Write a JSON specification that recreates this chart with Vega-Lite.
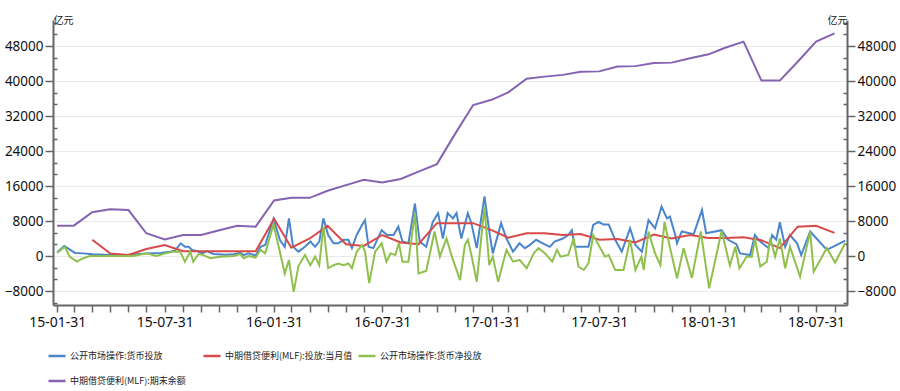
{
  "$schema": "https://vega.github.io/schema/vega-lite/v6.json",
  "autosize": {"type": "none"},
  "padding": {"left": 53, "top": 20, "right": 53, "bottom": 86},
  "width": 794,
  "height": 285,
  "background": "white",
  "config": {
    "view": {"stroke": null},
    "legend": {
      "orient": "none", "legendX": -6, "legendY": 326, "columns": 3, "gridAlign": "all",
      "columnPadding": 0, "rowPadding": 10, "padding": 0, "direction": "horizontal",
      "symbolType": "stroke", "symbolSize": 289, "symbolStrokeWidth": 2.5,
      "labelFont": "Noto Sans CJK SC", "labelFontSize": 9, "labelColor": "#222", "labelOffset": 3, "labelLimit": 0
    }
  },
  "datasets": {
    "blue": [
      {"d": "2015-01-31", "v": 800}, {"d": "2015-02-12", "v": 2300}, {"d": "2015-03-02", "v": 700}, {"d": "2015-03-16", "v": 600},
      {"d": "2015-04-01", "v": 400}, {"d": "2015-04-30", "v": 230}, {"d": "2015-05-31", "v": 300}, {"d": "2015-07-01", "v": 600},
      {"d": "2015-07-24", "v": 700}, {"d": "2015-08-09", "v": 1000}, {"d": "2015-08-17", "v": 1200}, {"d": "2015-08-27", "v": 2900},
      {"d": "2015-09-03", "v": 2100}, {"d": "2015-09-09", "v": 2100}, {"d": "2015-09-15", "v": 1400}, {"d": "2015-09-24", "v": 1100},
      {"d": "2015-10-02", "v": 600}, {"d": "2015-10-10", "v": 1100}, {"d": "2015-10-21", "v": 450}, {"d": "2015-11-10", "v": 300},
      {"d": "2015-11-24", "v": 400}, {"d": "2015-12-05", "v": 750}, {"d": "2015-12-11", "v": 200}, {"d": "2015-12-19", "v": 600},
      {"d": "2015-12-31", "v": 100}, {"d": "2016-01-08", "v": 2100}, {"d": "2016-01-16", "v": 2500}, {"d": "2016-01-30", "v": 8500},
      {"d": "2016-02-10", "v": 3600}, {"d": "2016-02-18", "v": 2100}, {"d": "2016-02-25", "v": 8600}, {"d": "2016-03-03", "v": 2100},
      {"d": "2016-03-12", "v": 1000}, {"d": "2016-03-23", "v": 2100}, {"d": "2016-04-01", "v": 3300}, {"d": "2016-04-09", "v": 2100},
      {"d": "2016-04-16", "v": 3300}, {"d": "2016-04-23", "v": 8600}, {"d": "2016-05-01", "v": 4800}, {"d": "2016-05-10", "v": 2900},
      {"d": "2016-05-18", "v": 2900}, {"d": "2016-05-27", "v": 3700}, {"d": "2016-06-04", "v": 3700}, {"d": "2016-06-10", "v": 1800},
      {"d": "2016-06-18", "v": 4800}, {"d": "2016-06-27", "v": 7100}, {"d": "2016-07-02", "v": 8200}, {"d": "2016-07-08", "v": 2100},
      {"d": "2016-07-16", "v": 1800}, {"d": "2016-07-30", "v": 5900}, {"d": "2016-08-08", "v": 4800}, {"d": "2016-08-19", "v": 4800},
      {"d": "2016-08-27", "v": 6700}, {"d": "2016-09-03", "v": 3300}, {"d": "2016-09-13", "v": 2900}, {"d": "2016-09-24", "v": 12000},
      {"d": "2016-10-02", "v": 3300}, {"d": "2016-10-13", "v": 2100}, {"d": "2016-10-24", "v": 7800}, {"d": "2016-11-02", "v": 9800},
      {"d": "2016-11-10", "v": 4000}, {"d": "2016-11-18", "v": 9800}, {"d": "2016-11-27", "v": 8600}, {"d": "2016-12-03", "v": 9800},
      {"d": "2016-12-11", "v": 4000}, {"d": "2016-12-22", "v": 9800}, {"d": "2016-12-28", "v": 7500}, {"d": "2017-01-06", "v": 1800},
      {"d": "2017-01-19", "v": 13600}, {"d": "2017-01-28", "v": 4800}, {"d": "2017-02-02", "v": 600}, {"d": "2017-02-16", "v": 7500},
      {"d": "2017-02-25", "v": 4000}, {"d": "2017-03-08", "v": 1000}, {"d": "2017-03-19", "v": 2900}, {"d": "2017-03-28", "v": 1800},
      {"d": "2017-04-05", "v": 2500}, {"d": "2017-04-16", "v": 3700}, {"d": "2017-04-27", "v": 2900}, {"d": "2017-05-09", "v": 2100},
      {"d": "2017-05-17", "v": 3300}, {"d": "2017-05-31", "v": 4000}, {"d": "2017-06-09", "v": 4800}, {"d": "2017-06-15", "v": 5900},
      {"d": "2017-06-20", "v": 2100}, {"d": "2017-07-13", "v": 2100}, {"d": "2017-07-21", "v": 7100}, {"d": "2017-07-30", "v": 7800},
      {"d": "2017-08-07", "v": 7200}, {"d": "2017-08-16", "v": 7200}, {"d": "2017-08-27", "v": 3700}, {"d": "2017-09-07", "v": 1000},
      {"d": "2017-09-21", "v": 6300}, {"d": "2017-09-30", "v": 2500}, {"d": "2017-10-11", "v": 1000}, {"d": "2017-10-22", "v": 8200},
      {"d": "2017-11-02", "v": 6300}, {"d": "2017-11-13", "v": 11300}, {"d": "2017-11-22", "v": 8600}, {"d": "2017-11-27", "v": 9000},
      {"d": "2017-12-06", "v": 4800}, {"d": "2017-12-09", "v": 2900}, {"d": "2017-12-17", "v": 5600}, {"d": "2018-01-06", "v": 5000},
      {"d": "2018-01-20", "v": 10500}, {"d": "2018-01-27", "v": 5200}, {"d": "2018-02-22", "v": 5900}, {"d": "2018-03-05", "v": 3700},
      {"d": "2018-03-19", "v": 2700}, {"d": "2018-03-25", "v": 600}, {"d": "2018-04-11", "v": 230}, {"d": "2018-04-19", "v": 4800},
      {"d": "2018-04-28", "v": 3300}, {"d": "2018-05-12", "v": 1800}, {"d": "2018-05-18", "v": 4800}, {"d": "2018-05-25", "v": 3700},
      {"d": "2018-05-31", "v": 7700}, {"d": "2018-06-09", "v": 2100}, {"d": "2018-06-17", "v": 4800}, {"d": "2018-06-29", "v": 2900},
      {"d": "2018-07-06", "v": 230}, {"d": "2018-07-21", "v": 5600}, {"d": "2018-08-18", "v": 1400}, {"d": "2018-09-18", "v": 3500}
    ],
    "red": [
      {"d": "2015-03-31", "v": 3700}, {"d": "2015-04-30", "v": 600}, {"d": "2015-05-31", "v": 230}, {"d": "2015-06-30", "v": 1600},
      {"d": "2015-07-31", "v": 2500}, {"d": "2015-08-31", "v": 1100}, {"d": "2015-09-30", "v": 1100}, {"d": "2015-10-31", "v": 1100},
      {"d": "2015-11-30", "v": 1100}, {"d": "2015-12-31", "v": 1100}, {"d": "2016-01-31", "v": 8500}, {"d": "2016-02-29", "v": 1900},
      {"d": "2016-03-31", "v": 4000}, {"d": "2016-04-30", "v": 6900}, {"d": "2016-05-31", "v": 2700}, {"d": "2016-06-30", "v": 2300},
      {"d": "2016-07-31", "v": 4800}, {"d": "2016-08-31", "v": 3100}, {"d": "2016-09-30", "v": 2700}, {"d": "2016-10-31", "v": 7500},
      {"d": "2016-11-30", "v": 7500}, {"d": "2016-12-31", "v": 7500}, {"d": "2017-01-31", "v": 5900}, {"d": "2017-02-28", "v": 4200},
      {"d": "2017-03-31", "v": 5200}, {"d": "2017-04-30", "v": 5200}, {"d": "2017-05-31", "v": 4800}, {"d": "2017-06-30", "v": 5000},
      {"d": "2017-07-31", "v": 3700}, {"d": "2017-08-31", "v": 3900}, {"d": "2017-09-30", "v": 3100}, {"d": "2017-10-31", "v": 4900},
      {"d": "2017-11-30", "v": 4000}, {"d": "2017-12-31", "v": 4800}, {"d": "2018-01-31", "v": 4100}, {"d": "2018-02-28", "v": 4100},
      {"d": "2018-03-31", "v": 4300}, {"d": "2018-04-30", "v": 3600}, {"d": "2018-05-31", "v": 1800}, {"d": "2018-06-30", "v": 6700},
      {"d": "2018-07-31", "v": 6900}, {"d": "2018-08-31", "v": 5300}
    ],
    "green": [
      {"d": "2015-01-31", "v": 750}, {"d": "2015-02-13", "v": 2100}, {"d": "2015-02-21", "v": -150}, {"d": "2015-03-05", "v": -1300},
      {"d": "2015-03-16", "v": -500}, {"d": "2015-03-27", "v": 0}, {"d": "2015-04-30", "v": 0}, {"d": "2015-06-08", "v": 0},
      {"d": "2015-07-01", "v": 600}, {"d": "2015-07-17", "v": 0}, {"d": "2015-07-28", "v": 450}, {"d": "2015-08-14", "v": 1000},
      {"d": "2015-08-26", "v": 1000}, {"d": "2015-09-03", "v": -1300}, {"d": "2015-09-12", "v": 1000}, {"d": "2015-09-17", "v": -1300},
      {"d": "2015-09-26", "v": 450}, {"d": "2015-10-04", "v": 200}, {"d": "2015-10-16", "v": -500}, {"d": "2015-11-01", "v": -150},
      {"d": "2015-11-24", "v": 0}, {"d": "2015-12-05", "v": 450}, {"d": "2015-12-11", "v": -500}, {"d": "2015-12-19", "v": 0},
      {"d": "2015-12-31", "v": -350}, {"d": "2016-01-08", "v": 1400}, {"d": "2016-01-16", "v": 600}, {"d": "2016-01-30", "v": 7200},
      {"d": "2016-02-10", "v": 800}, {"d": "2016-02-18", "v": -4000}, {"d": "2016-02-25", "v": -900}, {"d": "2016-03-04", "v": -8200},
      {"d": "2016-03-12", "v": -2300}, {"d": "2016-03-23", "v": 230}, {"d": "2016-04-01", "v": -2100}, {"d": "2016-04-09", "v": -150},
      {"d": "2016-04-16", "v": -2100}, {"d": "2016-04-23", "v": 6700}, {"d": "2016-05-01", "v": -2800}, {"d": "2016-05-10", "v": -2100},
      {"d": "2016-05-18", "v": -1700}, {"d": "2016-05-27", "v": -2100}, {"d": "2016-06-04", "v": -1700}, {"d": "2016-06-10", "v": -2800},
      {"d": "2016-06-18", "v": 1000}, {"d": "2016-06-27", "v": 2500}, {"d": "2016-07-02", "v": 1000}, {"d": "2016-07-09", "v": -6200},
      {"d": "2016-07-19", "v": 1000}, {"d": "2016-07-30", "v": 2900}, {"d": "2016-08-07", "v": -1300}, {"d": "2016-08-14", "v": 600},
      {"d": "2016-08-22", "v": 230}, {"d": "2016-08-28", "v": 2900}, {"d": "2016-09-03", "v": -1300}, {"d": "2016-09-13", "v": -1300},
      {"d": "2016-09-24", "v": 9800}, {"d": "2016-09-30", "v": -4000}, {"d": "2016-10-13", "v": -3400}, {"d": "2016-10-27", "v": 5600},
      {"d": "2016-11-05", "v": -150}, {"d": "2016-11-16", "v": 4000}, {"d": "2016-11-26", "v": -500}, {"d": "2016-12-09", "v": -5500},
      {"d": "2016-12-17", "v": 2500}, {"d": "2016-12-22", "v": 3700}, {"d": "2016-12-28", "v": 230}, {"d": "2017-01-06", "v": -5900},
      {"d": "2017-01-19", "v": 11300}, {"d": "2017-01-27", "v": -2100}, {"d": "2017-02-02", "v": -150}, {"d": "2017-02-11", "v": -5900},
      {"d": "2017-02-25", "v": 1400}, {"d": "2017-03-08", "v": -1300}, {"d": "2017-03-19", "v": -900}, {"d": "2017-03-31", "v": -2800},
      {"d": "2017-04-12", "v": 600}, {"d": "2017-04-20", "v": 1800}, {"d": "2017-05-01", "v": 600}, {"d": "2017-05-13", "v": -1300},
      {"d": "2017-05-21", "v": 1400}, {"d": "2017-05-27", "v": -150}, {"d": "2017-06-09", "v": 230}, {"d": "2017-06-18", "v": 4000},
      {"d": "2017-06-26", "v": -2400}, {"d": "2017-07-05", "v": -3200}, {"d": "2017-07-13", "v": -1700}, {"d": "2017-07-21", "v": 4800},
      {"d": "2017-07-30", "v": 2500}, {"d": "2017-08-10", "v": -150}, {"d": "2017-08-16", "v": 200}, {"d": "2017-08-27", "v": -3200},
      {"d": "2017-09-10", "v": -3200}, {"d": "2017-09-21", "v": 3700}, {"d": "2017-09-30", "v": -3200}, {"d": "2017-10-10", "v": -150},
      {"d": "2017-10-14", "v": -3200}, {"d": "2017-10-22", "v": 5600}, {"d": "2017-11-02", "v": 600}, {"d": "2017-11-11", "v": -2100},
      {"d": "2017-11-18", "v": 7800}, {"d": "2017-11-27", "v": 2000}, {"d": "2017-12-09", "v": -5100}, {"d": "2017-12-20", "v": 1800},
      {"d": "2018-01-03", "v": -5000}, {"d": "2018-01-18", "v": 5600}, {"d": "2018-02-01", "v": -7400}, {"d": "2018-02-22", "v": 5700},
      {"d": "2018-03-08", "v": -2200}, {"d": "2018-03-17", "v": 2100}, {"d": "2018-03-24", "v": -2800}, {"d": "2018-04-05", "v": -150},
      {"d": "2018-04-14", "v": -150}, {"d": "2018-04-19", "v": 4000}, {"d": "2018-04-28", "v": -2400}, {"d": "2018-05-09", "v": -1300},
      {"d": "2018-05-15", "v": 4000}, {"d": "2018-05-23", "v": -150}, {"d": "2018-05-31", "v": 4000}, {"d": "2018-06-09", "v": -2800},
      {"d": "2018-06-17", "v": 2100}, {"d": "2018-07-04", "v": -4700}, {"d": "2018-07-21", "v": 5600}, {"d": "2018-07-27", "v": -3600},
      {"d": "2018-08-18", "v": 1800}, {"d": "2018-09-01", "v": -1500}, {"d": "2018-09-18", "v": 2900}
    ],
    "purple": [
      {"d": "2015-01-31", "v": 6930}, {"d": "2015-02-28", "v": 6930}, {"d": "2015-03-31", "v": 10000}, {"d": "2015-04-30", "v": 10700},
      {"d": "2015-05-31", "v": 10500}, {"d": "2015-06-30", "v": 5200}, {"d": "2015-07-31", "v": 3800}, {"d": "2015-08-31", "v": 4800},
      {"d": "2015-09-30", "v": 4800}, {"d": "2015-10-31", "v": 5900}, {"d": "2015-11-30", "v": 6900}, {"d": "2015-12-31", "v": 6700},
      {"d": "2016-01-31", "v": 12700}, {"d": "2016-02-29", "v": 13300}, {"d": "2016-03-31", "v": 13300}, {"d": "2016-04-30", "v": 14900},
      {"d": "2016-05-31", "v": 16200}, {"d": "2016-06-30", "v": 17400}, {"d": "2016-07-31", "v": 16800}, {"d": "2016-08-31", "v": 17600},
      {"d": "2016-09-30", "v": 19300}, {"d": "2016-10-31", "v": 21000}, {"d": "2016-11-30", "v": 27800}, {"d": "2016-12-31", "v": 34500},
      {"d": "2017-01-31", "v": 35700}, {"d": "2017-02-28", "v": 37400}, {"d": "2017-03-31", "v": 40500}, {"d": "2017-04-30", "v": 41000},
      {"d": "2017-05-31", "v": 41400}, {"d": "2017-06-30", "v": 42100}, {"d": "2017-07-31", "v": 42200}, {"d": "2017-08-31", "v": 43300},
      {"d": "2017-09-30", "v": 43400}, {"d": "2017-10-31", "v": 44100}, {"d": "2017-11-30", "v": 44200}, {"d": "2017-12-31", "v": 45200},
      {"d": "2018-01-31", "v": 46100}, {"d": "2018-02-28", "v": 47600}, {"d": "2018-03-31", "v": 49000}, {"d": "2018-04-30", "v": 40100},
      {"d": "2018-05-31", "v": 40100}, {"d": "2018-06-30", "v": 44400}, {"d": "2018-07-31", "v": 49000}, {"d": "2018-08-31", "v": 50900}
    ]
  },
  "encoding": {
    "x": {
      "field": "d", "type": "temporal",
      "scale": {"type": "utc", "domain": [{"year": 2015, "month": 1, "date": 24, "utc": true}, {"year": 2018, "month": 9, "date": 21, "utc": true}]},
      "axis": {
        "title": null, "grid": false, "labelOverlap": false, "labelFlush": false,
        "values": [
          {"year": 2015, "month": 1, "date": 31, "utc": true}, {"year": 2015, "month": 2, "date": 28, "utc": true}, {"year": 2015, "month": 3, "date": 31, "utc": true},
          {"year": 2015, "month": 4, "date": 30, "utc": true}, {"year": 2015, "month": 5, "date": 31, "utc": true}, {"year": 2015, "month": 6, "date": 30, "utc": true},
          {"year": 2015, "month": 7, "date": 31, "utc": true}, {"year": 2015, "month": 8, "date": 31, "utc": true}, {"year": 2015, "month": 9, "date": 30, "utc": true},
          {"year": 2015, "month": 10, "date": 31, "utc": true}, {"year": 2015, "month": 11, "date": 30, "utc": true}, {"year": 2015, "month": 12, "date": 31, "utc": true},
          {"year": 2016, "month": 1, "date": 31, "utc": true}, {"year": 2016, "month": 2, "date": 29, "utc": true}, {"year": 2016, "month": 3, "date": 31, "utc": true},
          {"year": 2016, "month": 4, "date": 30, "utc": true}, {"year": 2016, "month": 5, "date": 31, "utc": true}, {"year": 2016, "month": 6, "date": 30, "utc": true},
          {"year": 2016, "month": 7, "date": 31, "utc": true}, {"year": 2016, "month": 8, "date": 31, "utc": true}, {"year": 2016, "month": 9, "date": 30, "utc": true},
          {"year": 2016, "month": 10, "date": 31, "utc": true}, {"year": 2016, "month": 11, "date": 30, "utc": true}, {"year": 2016, "month": 12, "date": 31, "utc": true},
          {"year": 2017, "month": 1, "date": 31, "utc": true}, {"year": 2017, "month": 2, "date": 28, "utc": true}, {"year": 2017, "month": 3, "date": 31, "utc": true},
          {"year": 2017, "month": 4, "date": 30, "utc": true}, {"year": 2017, "month": 5, "date": 31, "utc": true}, {"year": 2017, "month": 6, "date": 30, "utc": true},
          {"year": 2017, "month": 7, "date": 31, "utc": true}, {"year": 2017, "month": 8, "date": 31, "utc": true}, {"year": 2017, "month": 9, "date": 30, "utc": true},
          {"year": 2017, "month": 10, "date": 31, "utc": true}, {"year": 2017, "month": 11, "date": 30, "utc": true}, {"year": 2017, "month": 12, "date": 31, "utc": true},
          {"year": 2018, "month": 1, "date": 31, "utc": true}, {"year": 2018, "month": 2, "date": 28, "utc": true}, {"year": 2018, "month": 3, "date": 31, "utc": true},
          {"year": 2018, "month": 4, "date": 30, "utc": true}, {"year": 2018, "month": 5, "date": 31, "utc": true}, {"year": 2018, "month": 6, "date": 30, "utc": true},
          {"year": 2018, "month": 7, "date": 31, "utc": true}, {"year": 2018, "month": 8, "date": 31, "utc": true}
        ],
        "labelExpr": "(utcmonth(datum.value) == 0 || utcmonth(datum.value) == 6) ? utcFormat(datum.value, '%y-%m-%d') : ''",
        "tickSize": 7, "tickColor": "#666", "tickWidth": 1.5, "domainColor": "#666", "domainWidth": 2,
        "labelFont": "Noto Sans", "labelFontSize": 14, "labelColor": "#111", "labelPadding": 3
      }
    }
  },
  "resolve": {"scale": {"y": "shared"}, "axis": {"y": "independent"}},
  "layer": [
    {
      "data": {"name": "blue"},
      "mark": {"type": "line", "strokeWidth": 2},
      "encoding": {
        "y": {
          "field": "v", "type": "quantitative",
          "scale": {"domain": [-11200, 53943], "nice": false, "zero": false},
          "axis": {
            "orient": "left", "title": "亿元", "titleAngle": 0, "titleX": 0, "titleY": 0, "titleAlign": "left", "titleBaseline": "middle",
            "titleFont": "Noto Sans CJK SC", "titleFontSize": 10, "titleFontWeight": "normal", "titleColor": "#222",
            "values": [-10666.667, -8000, -5333.333, -2666.667, 0, 2666.667, 5333.333, 8000, 10666.667, 13333.333, 16000, 18666.667, 21333.333, 24000, 26666.667, 29333.333, 32000, 34666.667, 37333.333, 40000, 42666.667, 45333.333, 48000, 50666.667, 53333.333],
            "labelExpr": "abs(datum.value % 8000) < 1 ? format(datum.value, 'd') : ''",
            "tickSize": {"condition": {"test": "abs(datum.value % 8000) < 1", "value": 8}, "value": -4},
            "grid": true, "gridColor": "#e9e9e9",
            "gridOpacity": {"condition": {"test": "abs(datum.value % 8000) < 1", "value": 1}, "value": 0},
            "tickColor": "#666", "tickWidth": 1.5, "domainColor": "#666", "domainWidth": 2,
            "labelFont": "Noto Sans", "labelFontSize": 13.5, "labelColor": "#111", "labelPadding": 2, "labelOverlap": false
          }
        },
        "color": {
          "datum": "公开市场操作:货币投放", "type": "nominal",
          "scale": {
            "domain": ["公开市场操作:货币投放", "中期借贷便利(MLF):投放:当月值", "公开市场操作:货币净投放", "中期借贷便利(MLF):期末余额"],
            "range": ["#4a86cc", "#d84a48", "#8fc04e", "#8463b0"]
          },
          "legend": {"title": null}
        }
      }
    },
    {
      "data": {"name": "red"},
      "mark": {"type": "line", "strokeWidth": 2},
      "encoding": {
        "y": {"field": "v", "type": "quantitative", "axis": null},
        "color": {"datum": "中期借贷便利(MLF):投放:当月值", "type": "nominal"}
      }
    },
    {
      "data": {"name": "green"},
      "mark": {"type": "line", "strokeWidth": 2},
      "encoding": {
        "y": {"field": "v", "type": "quantitative", "axis": null},
        "color": {"datum": "公开市场操作:货币净投放", "type": "nominal"}
      }
    },
    {
      "data": {"name": "purple"},
      "mark": {"type": "line", "strokeWidth": 2},
      "encoding": {
        "y": {
          "field": "v", "type": "quantitative",
          "axis": {
            "orient": "right", "title": "亿元", "titleAngle": 0, "titleX": 0, "titleY": 0, "titleAlign": "right", "titleBaseline": "middle",
            "titleFont": "Noto Sans CJK SC", "titleFontSize": 10, "titleFontWeight": "normal", "titleColor": "#222",
            "values": [-10666.667, -8000, -5333.333, -2666.667, 0, 2666.667, 5333.333, 8000, 10666.667, 13333.333, 16000, 18666.667, 21333.333, 24000, 26666.667, 29333.333, 32000, 34666.667, 37333.333, 40000, 42666.667, 45333.333, 48000, 50666.667, 53333.333],
            "labelExpr": "abs(datum.value % 8000) < 1 ? format(datum.value, 'd') : ''",
            "tickSize": {"condition": {"test": "abs(datum.value % 8000) < 1", "value": 8}, "value": -4},
            "grid": false,
            "tickColor": "#666", "tickWidth": 1.5, "domainColor": "#666", "domainWidth": 2,
            "labelFont": "Noto Sans", "labelFontSize": 13.5, "labelColor": "#111", "labelPadding": 2, "labelOverlap": false
          }
        },
        "color": {"datum": "中期借贷便利(MLF):期末余额", "type": "nominal"}
      }
    }
  ]
}
